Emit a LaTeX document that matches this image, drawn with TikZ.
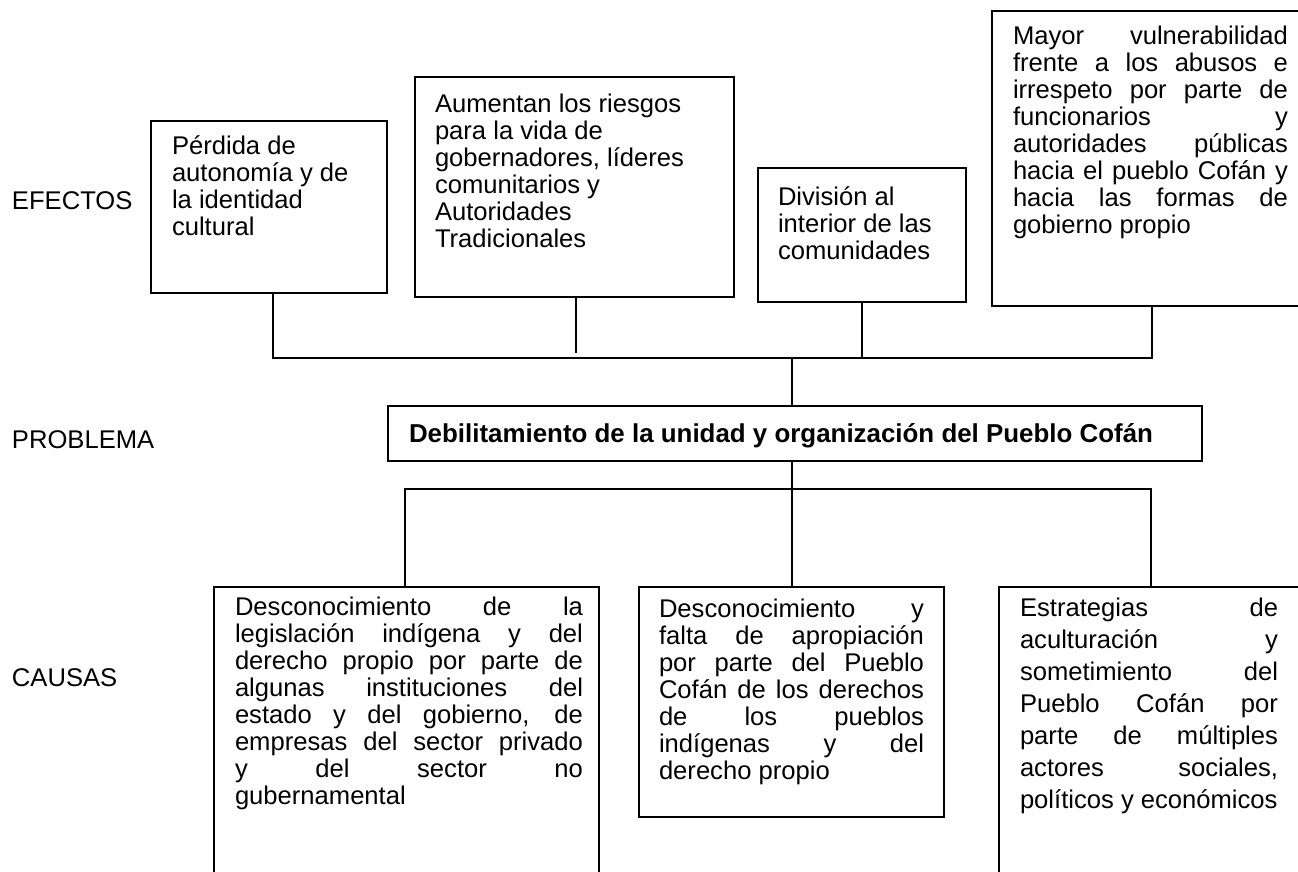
\documentclass[tikz,border=0pt]{standalone}
\usepackage{fontspec}
\setmainfont{Liberation Sans}
\newcommand\jl[1]{\hbox to \hsize{#1}}
\newcommand\rline[1]{\hbox{#1}}
\newcommand\txtblock[3]{\parbox[t]{#1pt}{\fontsize{25.6}{#2}\selectfont\lineskiplimit=-10pt #3}}
\tikzset{
  box/.style={draw, line width=1.6pt, inner sep=0pt, outer sep=0pt},
  txt/.style={inner sep=0pt, outer sep=0pt, anchor=base west},
  link/.style={line width=1.6pt},
  lab/.style={inner sep=0pt, outer sep=0pt, anchor=base west, font=\fontsize{25.6}{27}\selectfont}
}
\begin{document}
\begin{tikzpicture}[x=1pt, y=-1pt]
\useasboundingbox (0,0) rectangle (1298,872);
\clip (0,0) rectangle (1298,872);
% side labels
\node[lab] (lef) at (12,209) {EFECTOS};
\node[lab] (lpr) at (12,448) {PROBLEMA};
\node[lab] (lca) at (12,686) {CAUSAS};
% effect boxes
\node[box, minimum width=236pt, minimum height=172pt] (b1) at (269,207) {};
\node[box, minimum width=319pt, minimum height=220pt] (b2) at (574.5,187) {};
\node[box, minimum width=208pt, minimum height=134pt] (b3) at (862,235) {};
\node[box, minimum width=318pt, minimum height=295pt] (b4) at (1151,158.5) {};
% problem box
\node[box, minimum width=814pt, minimum height=55pt] (p) at (795,433.5) {};
% cause boxes
\node[box, minimum width=385pt, minimum height=333pt] (b5) at (406.5,753.5) {};
\node[box, minimum width=305pt, minimum height=230pt] (b6) at (791.5,702) {};
\node[box, minimum width=311pt, minimum height=333pt] (b7) at (1154.5,753.5) {};
% texts
\node[txt] (t1) at (172,154) {\txtblock{230}{27}{\rline{Pérdida de}\rline{autonomía y de}\rline{la identidad}\rline{cultural}}};
\node[txt] (t2) at (435,113) {\txtblock{300}{27}{\rline{Aumentan los riesgos}\rline{para la vida de}\rline{gobernadores, líderes}\rline{comunitarios y}\rline{Autoridades}\rline{Tradicionales}}};
\node[txt] (t3) at (778,205) {\txtblock{190}{27}{\rline{División al}\rline{interior de las}\rline{comunidades}}};
\node[txt] (t4) at (1013,45) {\txtblock{275}{27}{\jl{Mayor vulnerabilidad}\jl{frente a los abusos e}\jl{irrespeto por parte de}\jl{funcionarios y}\jl{autoridades públicas}\jl{hacia el pueblo Cofán y}\jl{hacia las formas de}\rline{gobierno propio}}};
\node[txt] (tp) at (409,442) {\fontsize{25.9}{27}\selectfont\bfseries Debilitamiento de la unidad y organización del Pueblo Cofán};
\node[txt] (t5) at (235,615) {\txtblock{348}{27}{\jl{Desconocimiento de la}\jl{legislación indígena y del}\jl{derecho propio por parte de}\jl{algunas instituciones del}\jl{estado y del gobierno, de}\jl{empresas del sector privado}\jl{y del sector no}\rline{gubernamental}}};
\node[txt] (t6) at (659,617) {\txtblock{265}{27}{\jl{Desconocimiento y}\jl{falta de apropiación}\jl{por parte del Pueblo}\jl{Cofán de los derechos}\jl{de los pueblos}\jl{indígenas y del}\rline{derecho propio}}};
\node[txt] (t7) at (1020,616) {\txtblock{258}{32}{\jl{Estrategias de}\jl{aculturación y}\jl{sometimiento del}\jl{Pueblo Cofán por}\jl{parte de múltiples}\jl{actores sociales,}\rline{políticos y económicos}}};
% connector points
\coordinate (d1) at (273,358);
\coordinate (d2) at (576,353);
\coordinate (d3) at (862,358);
\coordinate (d4) at (1152,358);
\coordinate (pc) at (792,358);
\coordinate (qc) at (792,489);
\coordinate (q1) at (405,489);
\coordinate (q3) at (1151,489);
% effect connectors
\draw[link] (b1.south -| d1) -- (d1) -- (d4) -- (b4.south -| d4);
\draw[link] (b2.south -| d2) -- (d2);
\draw[link] (b3.south -| d3) -- (d3);
\draw[link] (pc) -- (p.north -| pc);
% cause connectors
\draw[link] (p.south -| qc) -- (qc);
\draw[link] (b5.north -| q1) -- (q1) -- (q3) -- (b7.north -| q3);
\draw[link] (qc) -- (b6.north -| qc);
\end{tikzpicture}
\end{document}
